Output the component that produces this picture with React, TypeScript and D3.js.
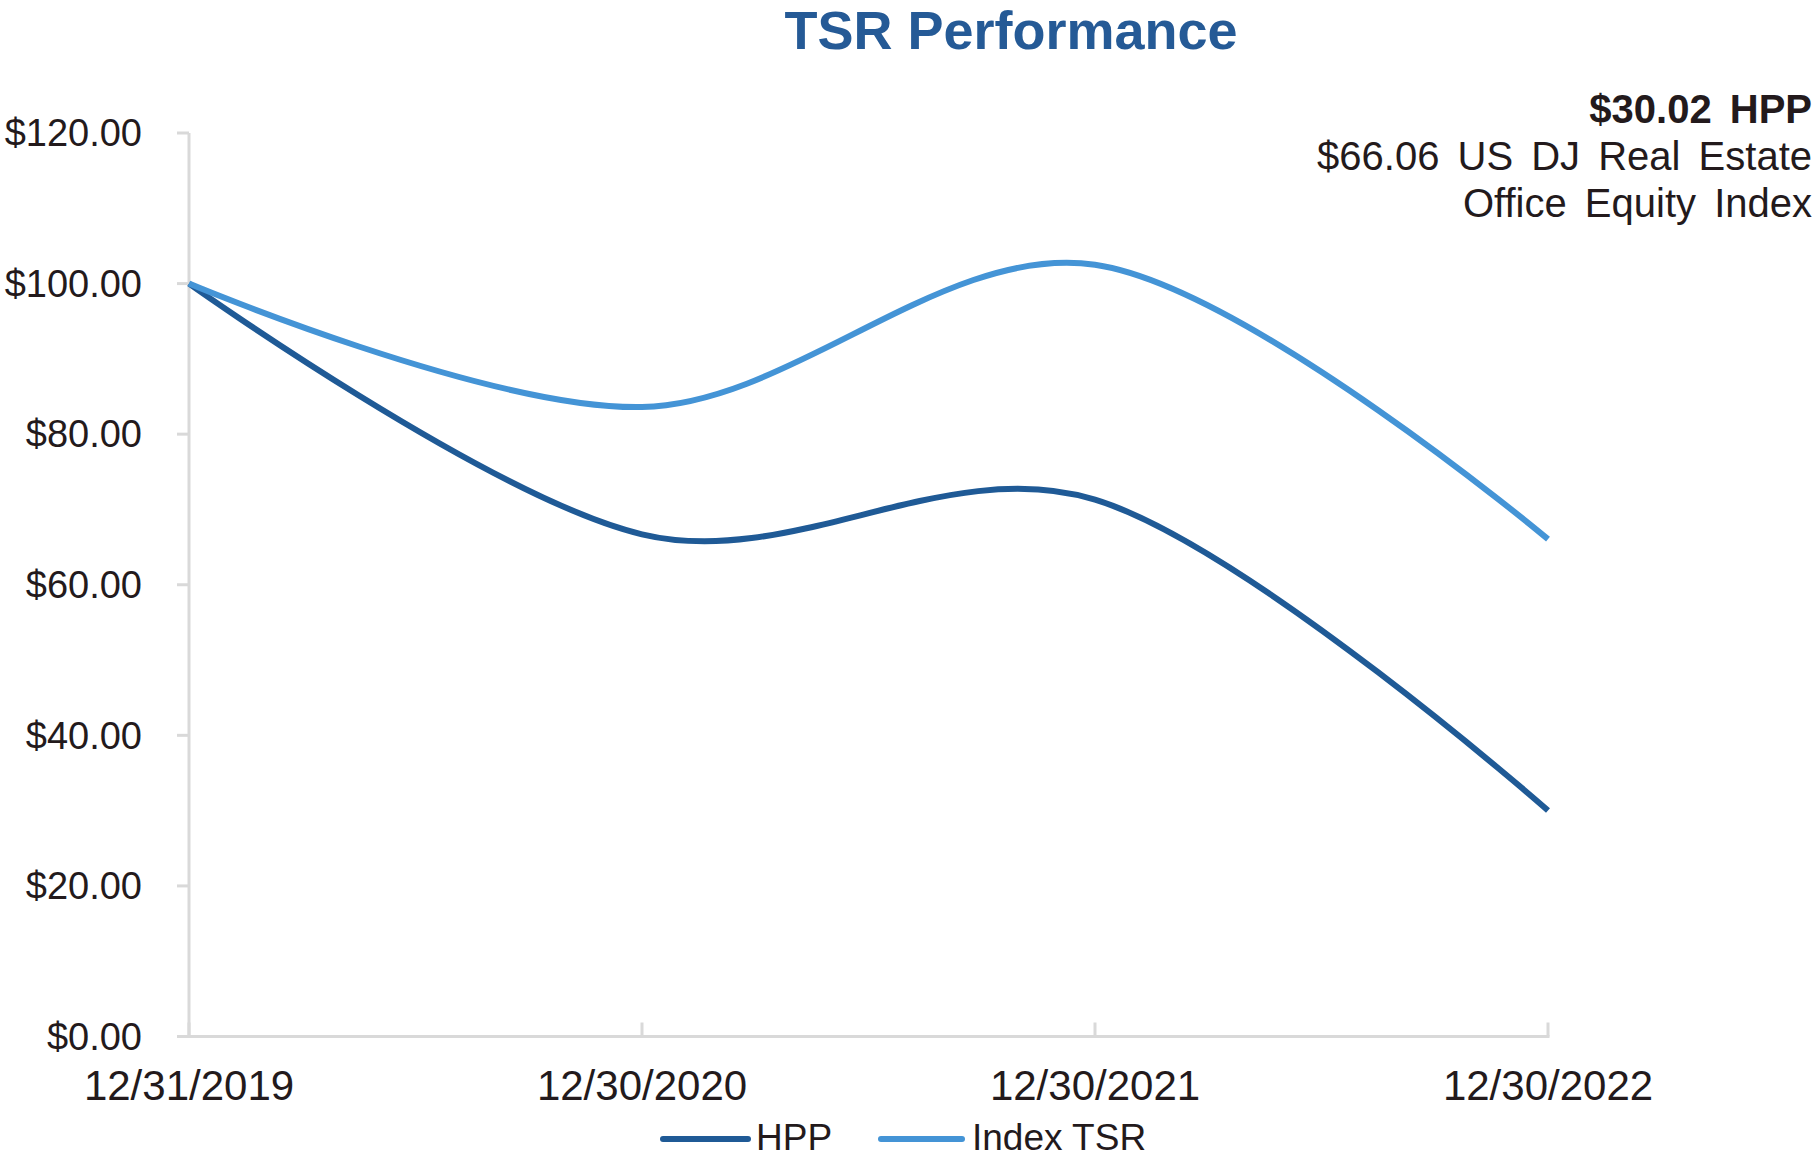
import React from "react";
import * as d3 from "d3";

const categories = ["12/31/2019", "12/30/2020", "12/30/2021", "12/30/2022"];
const hppValues = [100, 66.7, 71.3, 30.02];
const indexValues = [100, 83.6, 102.5, 66.06];
const yTicks = [0, 20, 40, 60, 80, 100, 120];
const seriesNames = ["HPP", "Index TSR"];
const annotationLines = ["$30.02 HPP", "$66.06 US DJ Real Estate", "Office Equity Index"];
const chartTitle = "TSR Performance";

const W = 1818;
const H = 1158;
const TEXT = "#231a1c";
const HPP_COLOR = "#1f5a96";
const INDEX_COLOR = "#4494d6";
const AXIS = "#d9d9d9";
const FONT = "'Liberation Sans', Arial, sans-serif";

export default function App() {
  const x = d3.scalePoint<string>().domain(categories).range([189, 1548]);
  const y = d3.scaleLinear().domain([0, 120]).range([1036.5, 133]);
  const line = d3
    .line<number>()
    .x((_, i) => x(categories[i]) as number)
    .y((d) => y(d))
    .curve(d3.curveCardinal.tension(0));

  const series = [
    { name: seriesNames[0], values: hppValues, color: HPP_COLOR },
    { name: seriesNames[1], values: indexValues, color: INDEX_COLOR },
  ];

  return (
    <div style={{ position: "absolute", left: 0, top: 0 }}>
      <svg width={W} height={H} style={{ display: "block", background: "#fff" }} fontFamily={FONT}>
        <text x={1011} y={49} textAnchor="middle" fontSize={54} fontWeight="bold" fill="#255a96">
          {chartTitle}
        </text>

        {/* y axis */}
        <line x1={x(categories[0])} x2={x(categories[0])} y1={y(120)} y2={y(0)} stroke={AXIS} strokeWidth={3} />
        {yTicks.map((t) => (
          <g key={t}>
            <line x1={177} x2={189} y1={y(t)} y2={y(t)} stroke={AXIS} strokeWidth={3} />
            <text x={142} y={y(t)} dy="0.35em" textAnchor="end" fontSize={38} fill={TEXT}>
              {d3.format("$,.2f")(t)}
            </text>
          </g>
        ))}

        {/* x axis */}
        <line x1={177} x2={(x(categories[3]) as number) + 1.5} y1={y(0)} y2={y(0)} stroke={AXIS} strokeWidth={3} />
        {categories.map((c) => (
          <g key={c}>
            <line x1={x(c)} x2={x(c)} y1={y(0)} y2={y(0) - 14} stroke={AXIS} strokeWidth={3} />
            <text x={x(c)} y={1100} textAnchor="middle" fontSize={42} fill={TEXT}>
              {c}
            </text>
          </g>
        ))}

        {/* lines */}
        {series.map((s) => (
          <path key={s.name} d={line(s.values) || ""} fill="none" stroke={s.color} strokeWidth={6} />
        ))}

        {/* annotation */}
        {annotationLines.map((t, i) => (
          <text
            key={t}
            x={1812}
            y={123 + i * 47}
            textAnchor="end"
            fontSize={40}
            fontWeight={i === 0 ? "bold" : "normal"}
            wordSpacing={7}
            fill={TEXT}
          >
            {t}
          </text>
        ))}

        {/* legend */}
        <line x1={663} x2={748} y1={1139} y2={1139} stroke={HPP_COLOR} strokeWidth={6} strokeLinecap="round" />
        <text x={756} y={1150} fontSize={37} fill={TEXT}>
          {seriesNames[0]}
        </text>
        <line x1={881} x2={962} y1={1139} y2={1139} stroke={INDEX_COLOR} strokeWidth={6} strokeLinecap="round" />
        <text x={972} y={1150} fontSize={37} fill={TEXT}>
          {seriesNames[1]}
        </text>
      </svg>
    </div>
  );
}
